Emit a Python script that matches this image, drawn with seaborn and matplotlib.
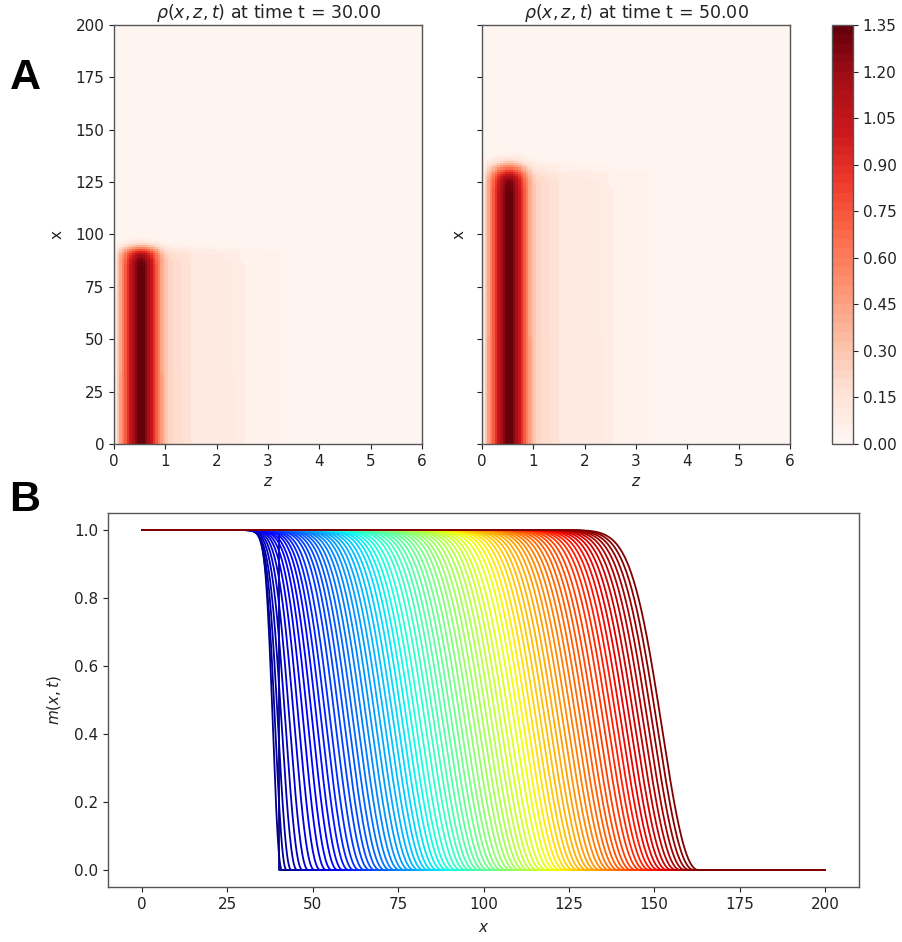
import numpy as np
import pandas as pd
import seaborn as sns
import matplotlib
matplotlib.use('Agg')
import matplotlib.pyplot as plt

# ---------------- panel A : rho(x, z, t) ----------------
times = [30.0, 50.0]
front_x = [93.0, 131.5]   # x where the population front sits
front_w = [1.6, 2.2]      # sharpness of that front
# rho along z for z = 0.00 ... 3.20 (step 0.05), zero further out
rho_z = [0.12, 0.28, 0.45, 0.58, 0.73, 0.88, 1.03, 1.16, 1.26, 1.33,
         1.35, 1.33, 1.26, 1.16, 1.03, 0.88, 0.73, 0.58, 0.45, 0.36,
         0.28, 0.24, 0.22, 0.21, 0.20, 0.19, 0.18, 0.175, 0.17, 0.165,
         0.12, 0.12, 0.118, 0.116, 0.114, 0.112, 0.11, 0.108, 0.106, 0.104,
         0.102, 0.10, 0.098, 0.096, 0.094, 0.092, 0.09, 0.088, 0.086,
         0.062, 0.061, 0.06, 0.059, 0.058, 0.057, 0.056, 0.055, 0.054,
         0.053, 0.052, 0.051, 0.05, 0.05, 0.05, 0.05]
z_max = 6.0
dz = 0.05
x_max = 200
cbar_ticks = [0.00, 0.15, 0.30, 0.45, 0.60, 0.75, 0.90, 1.05, 1.20, 1.35]

# ---------------- panel B : m(x, t) ----------------
step_x = 40.0   # initial condition: step at x = 40
# x where each later curve crosses m = 0.5
mid_x = [38.0, 38.6, 39.4, 40.4, 41.5, 42.7, 44.0, 45.3, 46.6, 47.9,
         49.2, 50.5, 51.8, 53.1, 54.4, 55.8, 57.1, 58.4, 59.7, 61.0,
         62.3, 63.6, 64.9, 66.2, 67.5, 68.8, 70.1, 71.4, 72.7, 74.0,
         75.3, 76.6, 77.9, 79.2, 80.5, 81.9, 83.2, 84.5, 85.8, 87.1,
         88.4, 89.7, 91.0, 92.3, 93.6, 94.9, 96.2, 97.5, 98.8, 100.1,
         101.4, 102.7, 104.0, 105.3, 106.6, 108.0, 109.3, 110.6, 111.9, 113.2,
         114.5, 115.8, 117.1, 118.4, 119.7, 121.0, 122.3, 123.6, 124.9, 126.2,
         127.5, 128.8, 130.1, 131.4, 132.7, 134.1, 135.4, 136.7, 138.0, 139.3,
         140.6, 141.9, 143.2, 144.5, 145.8, 147.1, 148.4, 149.7, 151.0]
# front width of each curve
width_L = [3.5, 4.4, 5.1, 5.9, 6.5, 7.1, 7.7, 8.2, 8.7, 9.1,
           9.6, 9.9, 10.3, 10.6, 10.9, 11.1, 11.4, 11.6, 11.8, 12.0,
           12.2, 12.3, 12.5, 12.6, 12.8, 12.9, 13.0, 13.1, 13.2, 13.2,
           13.3, 13.4, 13.5, 13.5, 13.6, 13.6, 13.7, 13.7, 13.7, 13.8,
           13.8, 13.8, 13.9, 13.9, 13.9, 13.9, 14.0, 14.0, 14.0, 14.0,
           14.0, 14.0, 14.0, 14.1, 14.1, 14.1, 14.1, 14.1, 14.1, 14.1,
           14.1, 14.1, 14.1, 14.1, 14.1, 14.1, 14.1, 14.2, 14.2, 14.2,
           14.2, 14.2, 14.2, 14.2, 14.2, 14.2, 14.2, 14.2, 14.2, 14.2,
           14.2, 14.2, 14.2, 14.2, 14.2, 14.2, 14.2, 14.2, 14.2]
shape_p = 2.2

plt.rcParams['font.family'] = 'DejaVu Sans'
plt.rcParams['mathtext.fontset'] = 'dejavusans'
plt.rcParams['font.size'] = 11
plt.rcParams['text.color'] = '#222222'
plt.rcParams['axes.labelcolor'] = '#222222'
plt.rcParams['xtick.color'] = '#222222'
plt.rcParams['ytick.color'] = '#222222'

fig = plt.figure(figsize=(9.02, 9.42), dpi=100)
W, H = 902.0, 942.0


def box(l, t, r, b):
    return [l / W, 1 - b / H, (r - l) / W, (b - t) / H]


axA = [fig.add_axes(box(114, 25, 422, 444)), fig.add_axes(box(482, 25, 790, 444))]
cax = fig.add_axes(box(832, 25, 853, 444))

nz = int(round(z_max / dz))
prof = np.zeros(nz)
prof[:len(rho_z)] = rho_z
xs = np.arange(x_max) + 0.5
reds = plt.get_cmap('Reds', 45)

for k, ax in enumerate(axA):
    fx = 1.0 / (1.0 + np.exp((xs - front_x[k]) / front_w[k]))
    rho = np.outer(fx, prof)
    sns.heatmap(rho, ax=ax, cmap=reds, vmin=0, vmax=1.35,
                cbar=(k == 1), cbar_ax=cax if k == 1 else None,
                cbar_kws={'ticks': cbar_ticks, 'format': '%.2f'} if k == 1 else None,
                xticklabels=False, yticklabels=False, rasterized=True)
    ax.set_xlim(0, nz)
    ax.set_ylim(0, x_max)
    ax.set_xticks(np.arange(0, nz + 1, 20))
    ax.set_xticklabels([str(v) for v in range(7)], rotation=0)
    ax.set_yticks(np.arange(0, x_max + 1, 25))
    if k == 0:
        ax.set_yticklabels([str(v) for v in range(0, x_max + 1, 25)], rotation=0)
        ax.set_ylabel('x', labelpad=8)
    else:
        ax.set_yticklabels([])
        ax.set_ylabel('x')
    ax.set_xlabel('$z$')
    ax.tick_params(length=3.5, width=0.8, labelsize=11)
    for s in ax.spines.values():
        s.set_visible(True)
        s.set_color('#555555')
        s.set_linewidth(1.0)
    ax.set_title(r'$\rho(x, z, t)$ at time t = %.2f' % times[k], fontsize=12.5, pad=5)

cb = axA[1].collections[0].colorbar
cb.outline.set_linewidth(1.0)
cb.outline.set_edgecolor('#555555')
cax.tick_params(length=3.5, width=0.8, labelsize=11)

# ---------------- panel B ----------------
axB = fig.add_axes(box(108, 513, 859, 887))
xg = np.linspace(0, 200, 801)
parts = [pd.DataFrame({'x': [0.0, step_x, step_x, 200.0], 'm': [1.0, 1.0, 0.0, 0.0], 'curve': 0})]
for i, (c, L) in enumerate(zip(mid_x, width_L), start=1):
    foot = c + L * np.log(2) ** (1 / shape_p)
    d = np.clip(foot - xg, 0, None)
    parts.append(pd.DataFrame({'x': xg, 'm': 1 - np.exp(-(d / L) ** shape_p), 'curve': i}))
df = pd.concat(parts, ignore_index=True)

sns.lineplot(data=df, x='x', y='m', hue='curve', palette=plt.get_cmap('jet'), estimator=None,
             sort=False, legend=False, lw=1.3, ax=axB)
axB.set_xlim(-10, 210)
axB.set_ylim(-0.05, 1.05)
axB.set_xticks(np.arange(0, 201, 25))
axB.set_yticks(np.arange(0, 1.01, 0.2))
axB.set_yticklabels(['%.1f' % v for v in np.arange(0, 1.01, 0.2)])
axB.set_xlabel('$x$', labelpad=6)
axB.set_ylabel('$m(x, t)$', labelpad=8)
axB.tick_params(length=3.5, width=0.8, labelsize=11)
for s in axB.spines.values():
    s.set_color('#555555')
    s.set_linewidth(1.0)

fig.text(25 / W, 1 - 78 / H, 'A', fontsize=31, fontweight='bold', family='Liberation Sans',
         ha='center', va='center', color='black')
fig.text(25 / W, 1 - 500 / H, 'B', fontsize=31, fontweight='bold', family='Liberation Sans',
         ha='center', va='center', color='black')

fig.savefig('out.png', dpi=100)
